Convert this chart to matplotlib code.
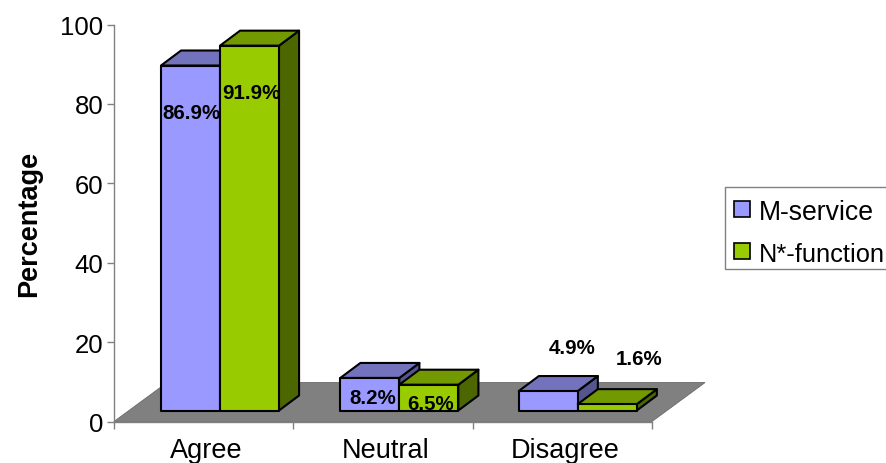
import matplotlib
matplotlib.use("Agg")
import matplotlib.pyplot as plt
from matplotlib.patches import Rectangle

plt.rcParams['font.family'] = ['Liberation Sans', 'DejaVu Sans']

# Datos
categories = ['Agree', 'Neutral', 'Disagree']
series_names = ['M-service', 'N*-function']
m_service = [86.9, 8.2, 4.9]
n_function = [91.9, 6.5, 1.6]
y_ticks = [0, 20, 40, 60, 80, 100]

# Colores: frente, tapa, lado
m_colors = ('#9999FF', '#7373BD', '#55558F')
n_colors = ('#99CC00', '#729900', '#4C6600')

W, H = 886, 464
fig = plt.figure(figsize=(W / 100, H / 100), dpi=100)
ax = fig.add_axes([114 / W, (H - 422.5) / H, 538 / W, 397 / H])
ax.set_xlim(0, 3)
ax.set_ylim(0, 100)

# Profundidad del efecto 3D
dx, dy = 0.112, 3.78
base = 2.77
bar_w = 0.329
offsets = [0.262, 0.262, 0.257]

# Suelo gris
fx, fy = 0.296, 9.82
ax.fill([0, 3, 3 + fx, fx], [0, 0, fy, fy], facecolor='#808080',
        edgecolor='#6a6a6a', lw=0.6, clip_on=False, zorder=1)


def bar3d(x, v, colors, z):
    top = base + v
    kw = dict(edgecolor='black', lw=1.5, clip_on=False, zorder=z, joinstyle='round')
    ax.fill([x + bar_w, x + bar_w + dx, x + bar_w + dx, x + bar_w],
            [base, base + dy, top + dy, top], facecolor=colors[2], **kw)
    ax.fill([x, x + dx, x + bar_w + dx, x + bar_w],
            [top, top + dy, top + dy, top], facecolor=colors[1], **kw)
    ax.fill([x, x + bar_w, x + bar_w, x],
            [base, base, top, top], facecolor=colors[0], **kw)


for i in range(3):
    x = i + offsets[i]
    bar3d(x, m_service[i], m_colors, 2 + i * 2)
    bar3d(x + bar_w, n_function[i], n_colors, 3 + i * 2)

# Etiquetas de porcentaje (desplazamiento en pixeles desde la tapa)
label_dy = [[-47, -47], [-20, -19], [44, 46]]
label_dx = [[1, 1.5], [2.5, 2], [24, 32]]
for i in range(3):
    for j, vals in enumerate([m_service, n_function]):
        x = i + offsets[i] + bar_w * (j + 0.5)
        ax.annotate(f'{vals[i]}%', (x, base + vals[i]),
                    xytext=(label_dx[i][j] * 0.72, label_dy[i][j] * 0.72),
                    textcoords='offset points', ha='center', va='center',
                    fontsize=14.8, fontweight='bold', color='black',
                    annotation_clip=False, zorder=20)

# Ejes
for s in ['top', 'right']:
    ax.spines[s].set_visible(False)
for s in ['left', 'bottom']:
    ax.spines[s].set_color('#808080')
    ax.spines[s].set_linewidth(1.0)
    ax.spines[s].set_zorder(1.5)
ax.set_yticks(y_ticks)
ax.set_xticks([0, 1, 2, 3])
ax.set_xticklabels([])
ax.set_xticks([0.514, 1.514, 2.514], categories, minor=True)
ax.tick_params(axis='x', which='major', length=5, width=1, color='#808080')
ax.tick_params(axis='x', which='minor', length=0, pad=11.5, labelsize=19.5)
ax.tick_params(axis='y', length=5, width=1, color='#808080', labelsize=18.5, pad=2.5)
ax.set_ylabel('Percentage', fontsize=19.5, fontweight='bold', labelpad=13.5)
ax.patch.set_visible(False)

# Leyenda dibujada a mano, en pixeles de la figura
fig.add_artist(Rectangle((725 / W, 1 - 270 / H), 170 / W, 82 / H, transform=fig.transFigure,
                         facecolor='white', edgecolor='#808080', lw=1.0))
legend_y = [210, 252]
legend_sizes = [19.2, 18.3]
for name, col, ly, fs in zip(series_names, [m_colors[0], n_colors[0]], legend_y, legend_sizes):
    fig.add_artist(Rectangle((734 / W, 1 - (ly + 8) / H), 16 / W, 16 / H, transform=fig.transFigure,
                             facecolor=col, edgecolor='black', lw=1.2))
    fig.text(759 / W, 1 - ly / H, name, fontsize=fs, va='center_baseline', ha='left')

fig.savefig('out.png', dpi=100)
